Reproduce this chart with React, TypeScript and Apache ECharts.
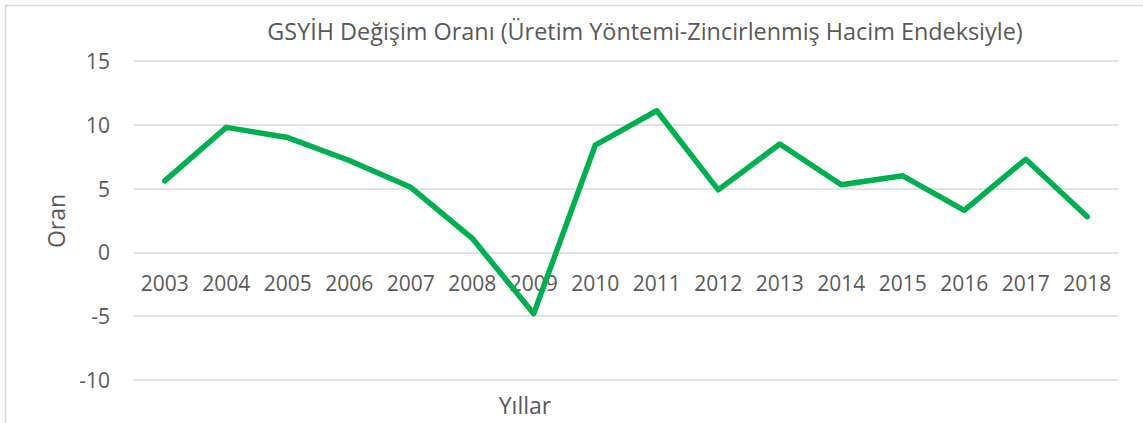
import React, { useEffect, useRef } from "react";
import * as echarts from "echarts";

const years = ["2003", "2004", "2005", "2006", "2007", "2008", "2009", "2010", "2011", "2012", "2013", "2014", "2015", "2016", "2017", "2018"];
const rates = [5.6, 9.8, 9.0, 7.2, 5.1, 1.1, -4.8, 8.4, 11.1, 4.9, 8.5, 5.3, 6.0, 3.3, 7.3, 2.8];
const titleText = "GSYİH Değişim Oranı (Üretim Yöntemi-Zincirlenmiş Hacim Endeksiyle)";
const yAxisName = "Oran";
const xAxisName = "Yıllar";

const FONT = "'Open Sans', 'Noto Sans', sans-serif";
const TEXT = "#595959";

export default function App() {
  const ref = useRef<HTMLDivElement>(null);
  useEffect(() => {
    if (!ref.current) return;
    const chart = echarts.init(ref.current, null, { renderer: "svg" });
    chart.setOption({
      animation: false,
      backgroundColor: "#ffffff",
      textStyle: { fontFamily: FONT },
      title: {
        text: titleText,
        left: 640,
        top: 14,
        textAlign: "center",
        textStyle: { fontFamily: FONT, fontSize: 23.4, fontWeight: "normal", color: TEXT },
      },
      grid: { left: 134, right: 25, top: 61, bottom: 43, containLabel: false },
      xAxis: {
        type: "category",
        data: years,
        boundaryGap: true,
        position: "bottom",
        offset: -127.7,
        axisLine: { show: false, onZero: false },
        axisTick: { show: false },
        axisLabel: { color: TEXT, fontSize: 21, margin: 20, fontFamily: FONT, interval: 0 },
        splitLine: { show: false },
      },
      yAxis: {
        type: "value",
        min: -10,
        max: 15,
        interval: 5,
        axisLine: { show: false },
        axisTick: { show: false },
        axisLabel: { color: TEXT, fontSize: 21, margin: 24, fontFamily: FONT },
        splitLine: { lineStyle: { color: "#d9d9d9", width: 1.5 } },
      },
      graphic: [
        {
          type: "rect",
          shape: { x: 5.5, y: 5.5, width: 1300, height: 600 },
          style: { fill: "none", stroke: "#d9d9d9", lineWidth: 1.5 },
          silent: true,
          z: -10,
        },
        {
          type: "text",
          x: 56,
          y: 221,
          rotation: Math.PI / 2,
          style: { text: yAxisName, fontSize: 23, fontFamily: FONT, fill: TEXT, align: "center", verticalAlign: "middle" },
        },
        {
          type: "text",
          x: 525,
          y: 405,
          style: { text: xAxisName, fontSize: 23, fontFamily: FONT, fill: TEXT, align: "center", verticalAlign: "middle" },
        },
      ],
      series: [
        {
          type: "line",
          data: rates,
          symbol: "none",
          lineStyle: { color: "#00b050", width: 5.5, cap: "round", join: "round" },
          itemStyle: { color: "#00b050" },
        },
      ],
    });
    return () => chart.dispose();
  }, []);
  return <div ref={ref} style={{ position: "fixed", left: 0, top: 0, width: 1143, height: 423 }} />;
}
